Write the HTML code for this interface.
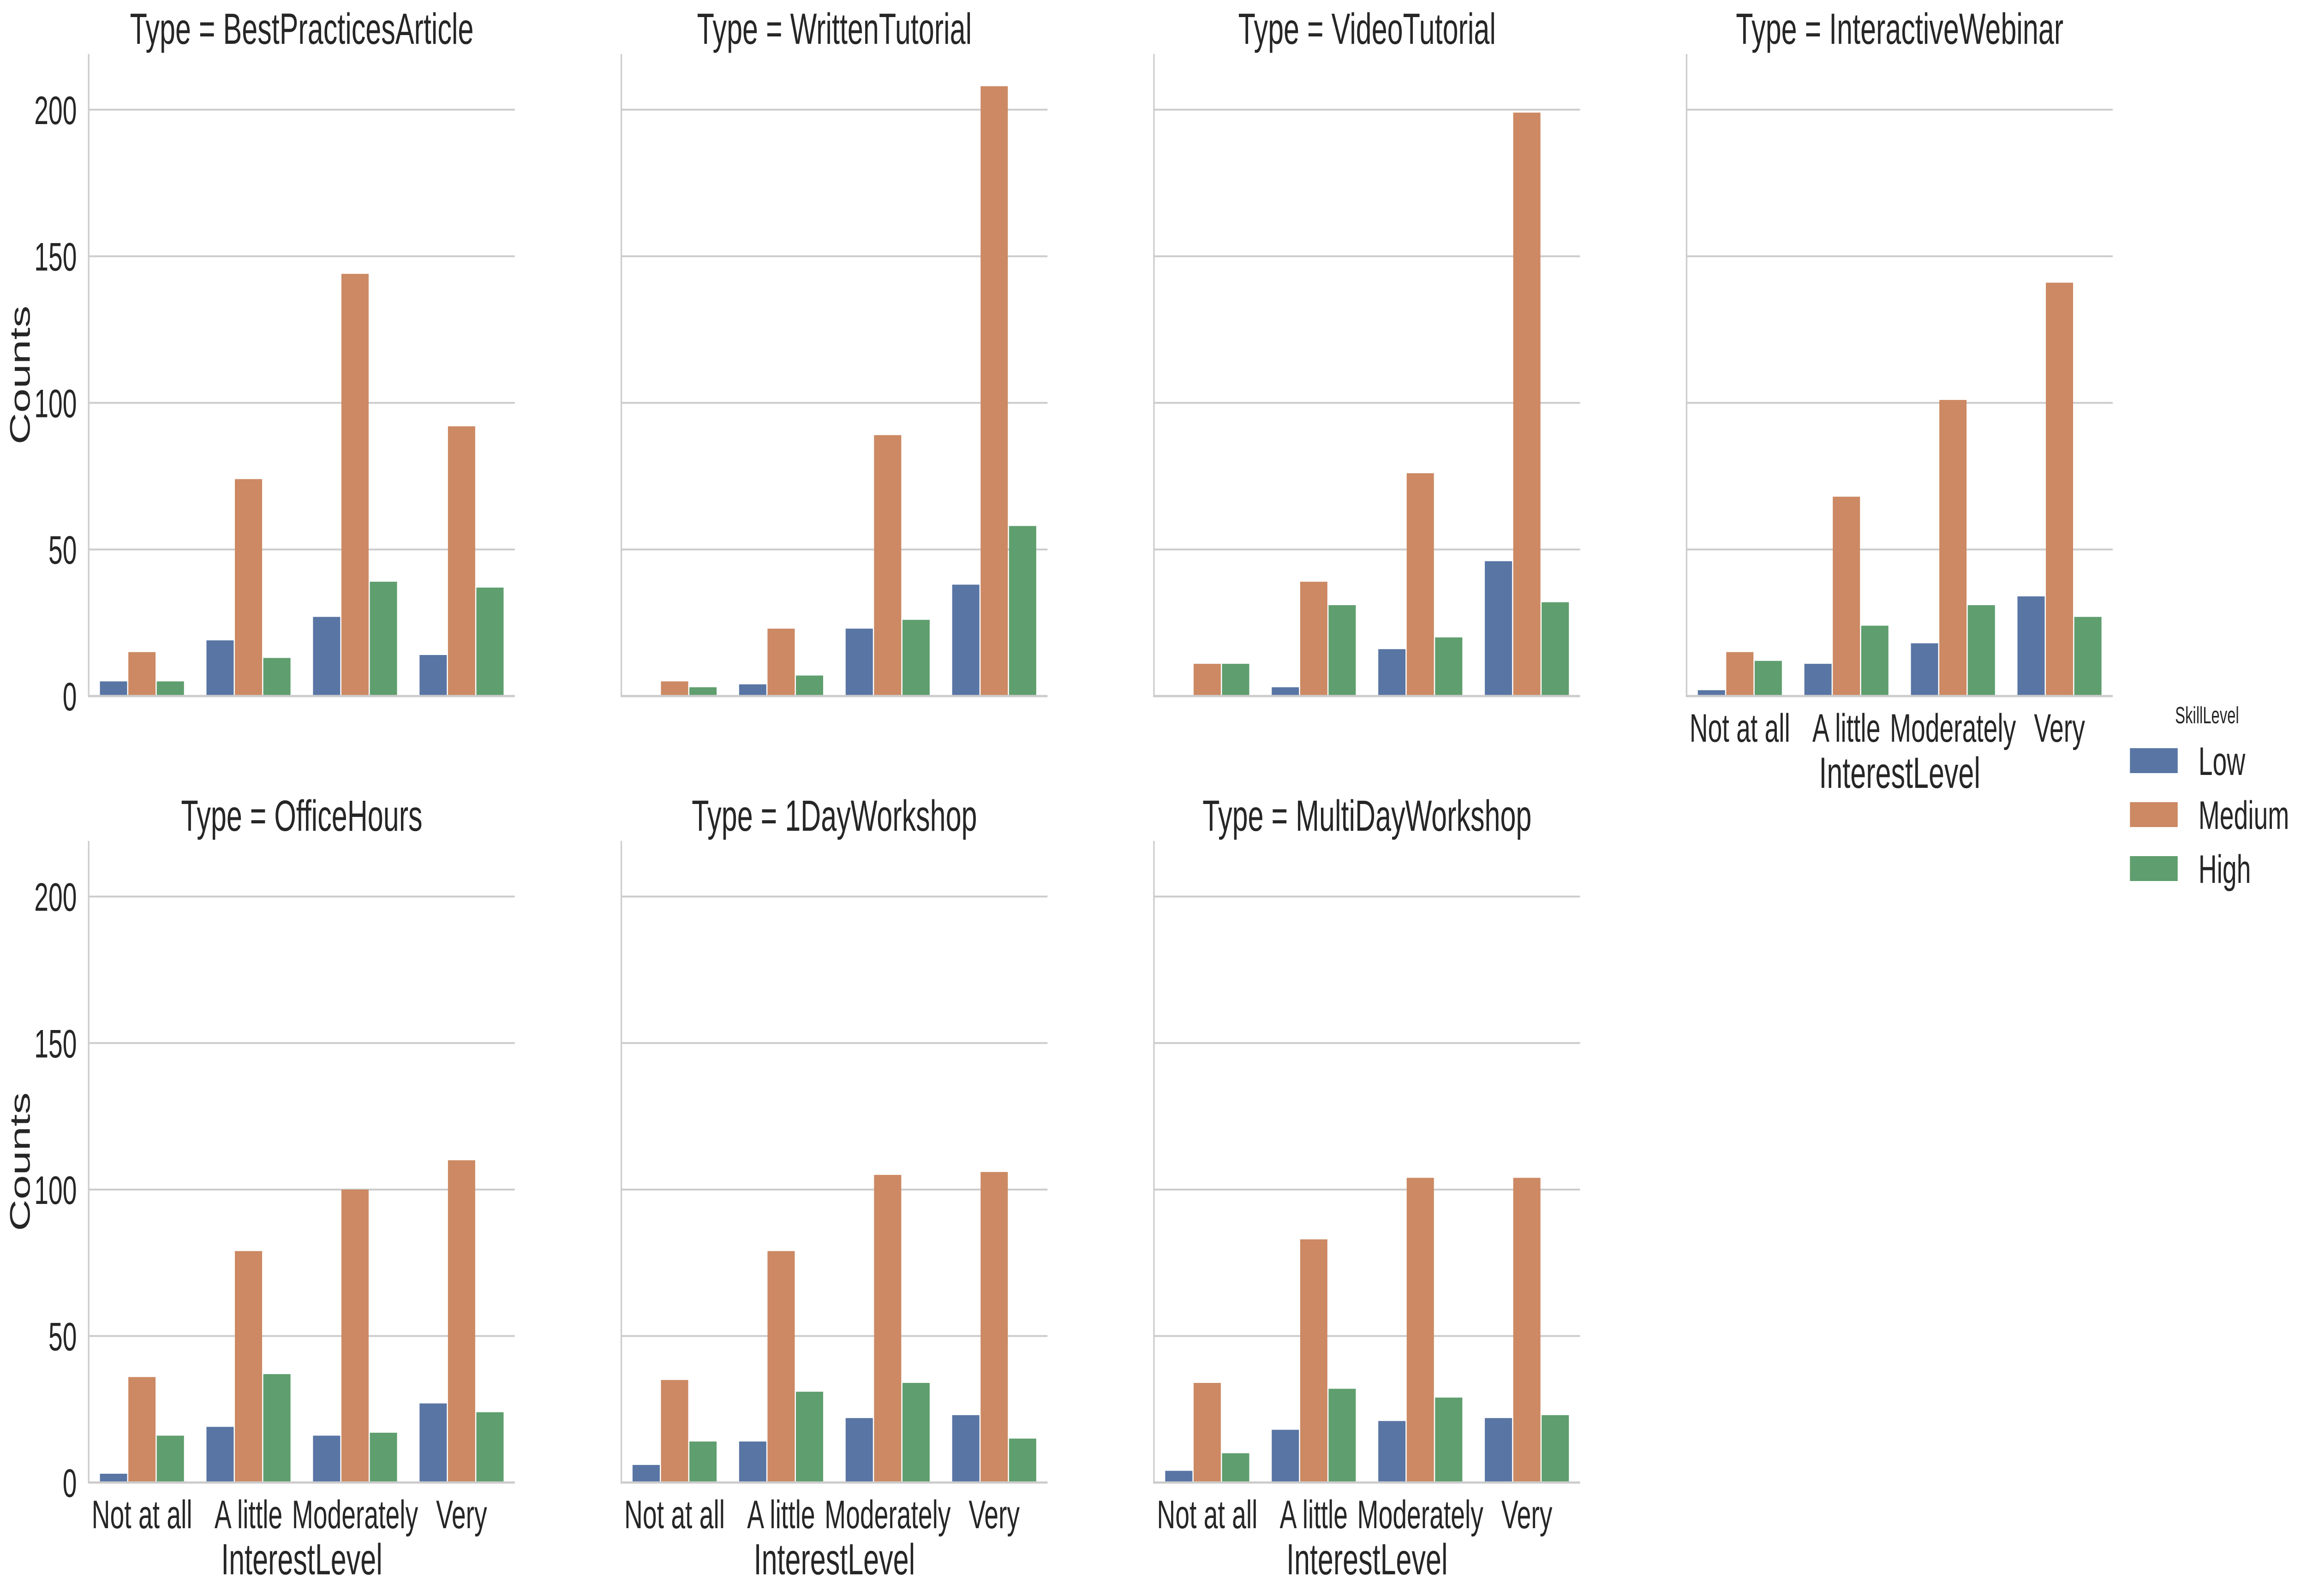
<!DOCTYPE html>
<html><head><meta charset="utf-8"><style>
html,body{margin:0;padding:0;background:#fff;overflow:hidden;width:100%;height:100%;}
svg{display:block;font-family:"Liberation Sans",Arial,sans-serif;width:100vw;height:100vh;}
</style></head><body>
<svg id="chart" viewBox="0 0 7779 3460" preserveAspectRatio="none" xmlns="http://www.w3.org/2000/svg"></svg>
<script>
const panelTitles = ["BestPracticesArticle","WrittenTutorial","VideoTutorial","InteractiveWebinar","OfficeHours","1DayWorkshop","MultiDayWorkshop"];
const categories = ["Not at all","A little","Moderately","Very"];
const skillLevels = ["Low","Medium","High"];
const lowValues = [[5,19,27,14],[0,4,23,38],[0,3,16,46],[2,11,18,34],[3,19,16,27],[6,14,22,23],[4,18,21,22]];
const mediumValues = [[15,74,144,92],[5,23,89,208],[11,39,76,199],[15,68,101,141],[36,79,100,110],[35,79,105,106],[34,83,104,104]];
const highValues = [[5,13,39,37],[3,7,26,58],[11,31,20,32],[12,24,31,27],[16,37,17,24],[14,31,34,15],[10,32,29,23]];
const yTicks = [0,50,100,150,200];
const yMax = 219;

const colors = ["#5975a4","#cc8963","#5f9e6e"];
const series = [lowValues, mediumValues, highValues];
const svg = document.getElementById('chart');
const NS = "http://www.w3.org/2000/svg";
function mk(tag, attrs, parent){const e=document.createElementNS(NS,tag);for(const k in attrs)e.setAttribute(k,attrs[k]);(parent||svg).appendChild(e);return e;}

const PW = 1437, X0 = 299, DX = 1796;
const rows = [{top:117, base:1509},{top:1823, base:3214}];

for(let p=0;p<panelTitles.length;p++){
  const r = p<4?0:1, c = p<4?p:p-4;
  const left = X0 + c*DX, base = rows[r].base, top = rows[r].top;
  const y = v => base - v*(base-top)/yMax;
  const catW = PW/categories.length;
  const x = i => left + catW*(i+0.5);
  const g = mk('g',{});
  
  
  yTicks.forEach(t=>{
    const l = mk('line',{x1:left,x2:left+PW,y1:y(t),y2:y(t),stroke:'#cccccc','stroke-width':4},g);
    
    
    if(c===0){
      const tx = mk('text',{x:left-40,y:y(t)+31,'text-anchor':'end','font-size':86,fill:'#262626'},g);
      tx.textContent = t;
      
      
    }
  });
  const bw = catW*0.8/3;
  for(let s=0;s<3;s++){
    for(let i=0;i<categories.length;i++){
      const v = series[s][p][i];
      const bx = x(i) - catW*0.4 + s*bw;
      const b = mk('rect',{x:bx+2,y:y(v),width:bw-4,height:Math.max(0,base-y(v)),fill:colors[s]},g);
      
      
    }
  }
  const ya = mk('line',{x1:left,x2:left,y1:top,y2:base+2.5,stroke:'#cccccc','stroke-width':5},g);
  
  
  const xa = mk('line',{x1:left-2.5,x2:left+PW,y1:base,y2:base,stroke:'#cccccc','stroke-width':5},g);
  
  
  const tt = mk('text',{x:left+PW/2,y:top-22,'text-anchor':'middle','font-size':95,fill:'#262626'},g);
  tt.textContent = 'Type = '+panelTitles[p];
  
  
  if(c===0){
    const yl = mk('text',{x:0,y:0,'text-anchor':'middle','font-size':95,fill:'#262626',transform:'translate(100,'+((top+base)/2)+') rotate(-90)'},g);
    yl.textContent = 'Counts';
    
    
  }
  if(r===1 || p===3){
    categories.forEach((cat,i)=>{
      const tl = mk('text',{x:x(i),y:base+99,'text-anchor':'middle','font-size':86,fill:'#262626'},g);
      tl.textContent = cat;
      
      
    });
    const xl = mk('text',{x:left+PW/2,y:base+199,'text-anchor':'middle','font-size':95,fill:'#262626'},g);
    xl.textContent = 'InterestLevel';
    
    
  }
}
const lg = mk('g',{});


const lt = mk('text',{x:7442,y:1568,'text-anchor':'middle','font-size':51,fill:'#262626'},lg);
lt.textContent = 'SkillLevel';


skillLevels.forEach((s,i)=>{
  const cy = 1649 + i*117;
  const pr = mk('rect',{x:7182,y:cy-27,width:161,height:54,fill:colors[i]},lg);
  
  
  const tx = mk('text',{x:7413,y:cy+31,'font-size':86,fill:'#262626'},lg);
  tx.textContent = s;
  
  
});
</script>
</body></html>
